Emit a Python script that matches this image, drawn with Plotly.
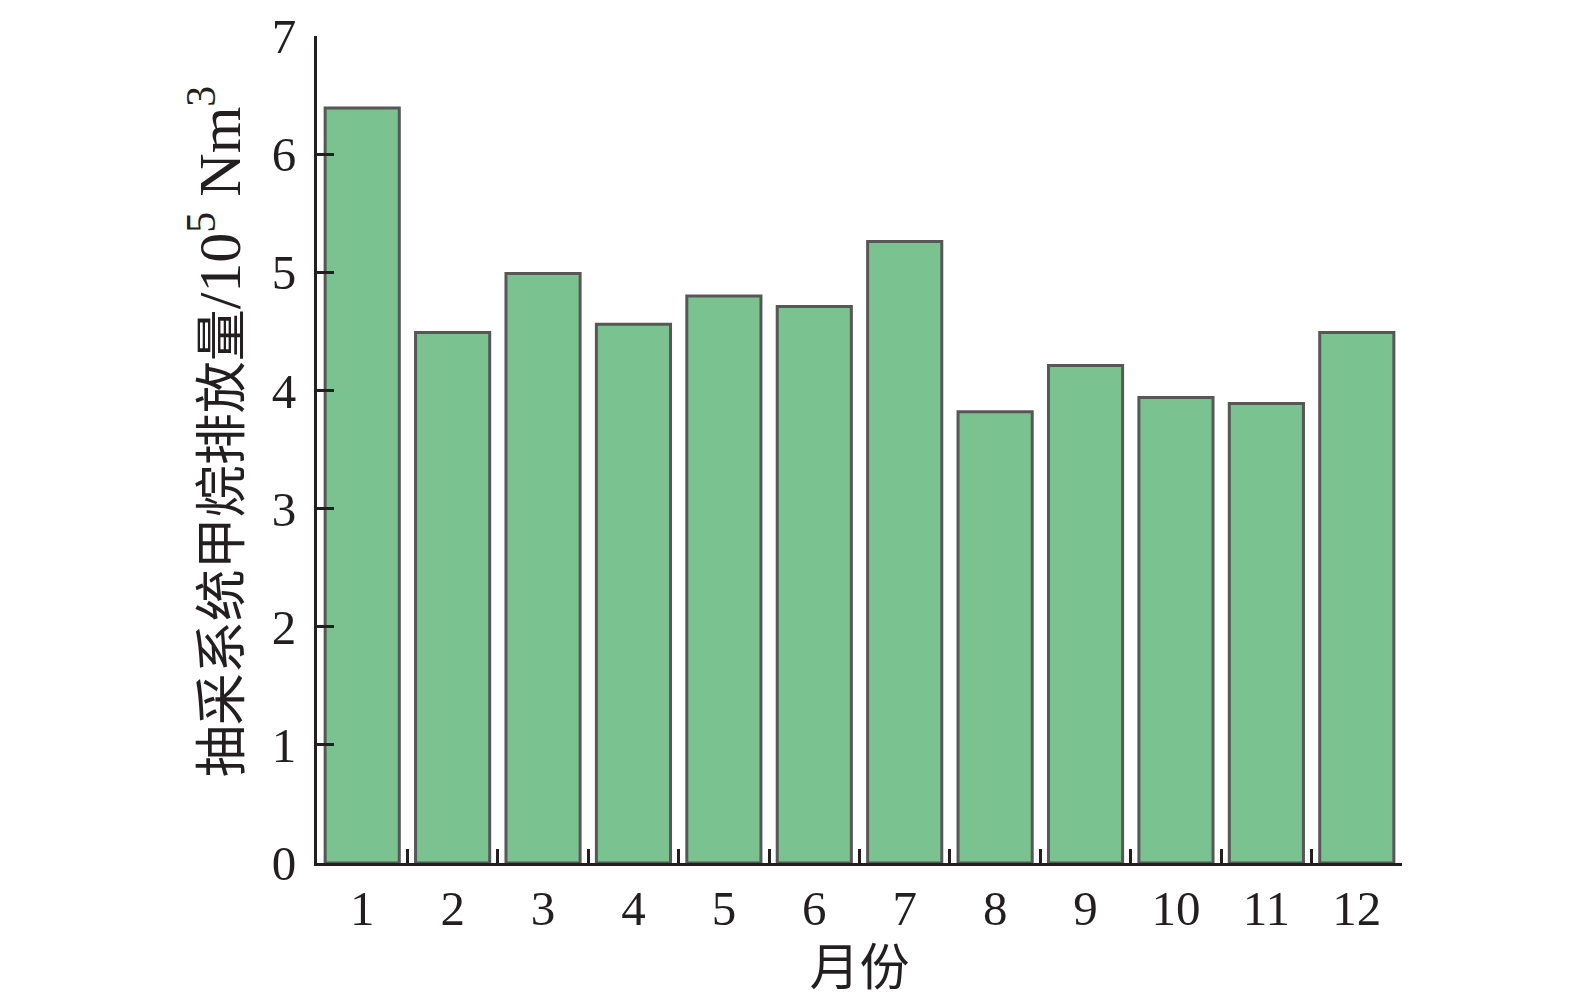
import plotly.graph_objects as go

months = ["1", "2", "3", "4", "5", "6", "7", "8", "9", "10", "11", "12"]
emission = [6.39, 4.49, 4.99, 4.56, 4.80, 4.71, 5.26, 3.82, 4.21, 3.94, 3.89, 4.49]
y_ticks = [0, 1, 2, 3, 4, 5, 6, 7]

FONT = "Liberation Serif, Times New Roman, Noto Sans CJK SC, serif"
INK = "#231f20"

fig = go.Figure()
fig.add_trace(go.Bar(
    x=months, y=emission,
    marker=dict(color="#7AC390", line=dict(color="#575757", width=3)),
))

# page body has an 8px margin, so figure is sized to fit inside viewport
fig.update_layout(
    width=1559, height=988,
    margin=dict(l=309, r=165, t=28, b=133),
    paper_bgcolor="white", plot_bgcolor="white",
    bargap=0.18,
    showlegend=False,
    font=dict(family=FONT, size=48, color=INK),
)
fig.update_xaxes(
    type="category", automargin=False,
    showline=True, linecolor=INK, linewidth=3,
    ticks="inside", tickson="boundaries", ticklen=14, tickwidth=3, tickcolor=INK,
    tickfont=dict(family=FONT, size=49, color=INK),
    title=dict(text="月份", font=dict(family=FONT, size=50, color=INK), standoff=22),
    showgrid=False, zeroline=False,
)
fig.update_yaxes(
    range=[0, 7], tickvals=y_ticks, ticktext=[str(v) for v in y_ticks],
    automargin=False,
    showline=True, linecolor=INK, linewidth=3,
    ticks="inside", ticklen=17, tickwidth=3, tickcolor=INK,
    tickfont=dict(family=FONT, size=49, color=INK),
    ticklabelstandoff=8,
    showgrid=False, zeroline=False,
)
fig.add_annotation(
    text="抽采系统甲烷排放量<span style='font-size:60px'>/10<sup>5</sup> Nm<sup>3</sup></span>",
    xref="paper", yref="paper", x=-0.094, y=0.522,
    xanchor="center", yanchor="middle", textangle=-90, showarrow=False,
    font=dict(family=FONT, size=52, color=INK),
)

fig.write_html("out.html")
